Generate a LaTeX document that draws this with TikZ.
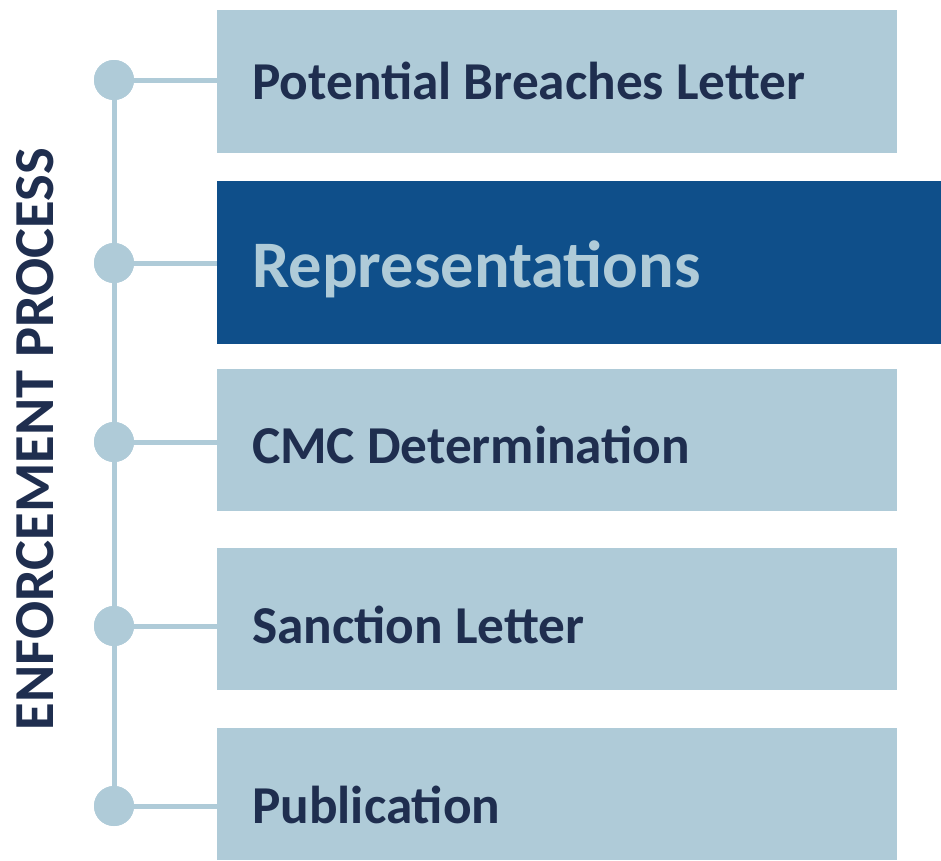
\documentclass[tikz,border=0pt]{standalone}
\usepackage{fontspec}
\setmainfont{Carlito}
\definecolor{paleblue}{HTML}{AFCBD8}
\definecolor{deepblue}{HTML}{0F4F8A}
\definecolor{navy}{HTML}{1F2E4F}
\begin{document}
\begin{tikzpicture}[x=1pt,y=-1pt,
  stage/.style={fill=paleblue, draw=none},
  activestage/.style={fill=deepblue, draw=none},
  label/.style={anchor=base west, inner sep=0pt, text=navy, font=\fontsize{53.3}{60}\selectfont\bfseries},
  activelabel/.style={anchor=base west, inner sep=0pt, text=paleblue, font=\fontsize{66.5}{76}\selectfont\bfseries},
  dot/.style={circle, fill=paleblue, draw=none, minimum size=40pt, inner sep=0pt},
  link/.style={draw=paleblue, line width=5pt}]
\useasboundingbox (0,0) rectangle (941,860);

% stage boxes
\fill[stage] (217,10) rectangle (897,153);
\fill[activestage] (217,181) rectangle (941,344);
\fill[stage] (217,369) rectangle (897,511);
\fill[stage] (217,548) rectangle (897,690);
\fill[stage] (217,728) rectangle (897,860);

% timeline dots
\node[dot] (d1) at (114,80) {};
\node[dot] (d2) at (114,263) {};
\node[dot] (d3) at (114,442) {};
\node[dot] (d4) at (114,626) {};
\node[dot] (d5) at (114,806) {};

\coordinate (b1) at (217,80);
\coordinate (b2) at (217,263);
\coordinate (b3) at (217,442);
\coordinate (b4) at (217,626);
\coordinate (b5) at (217,806);

% spine and connectors, then the dots again on top
\draw[link] (d1.center) -- (d5.center);
\foreach \i in {1,...,5} \draw[link] (d\i.center) -- (b\i);
\foreach \i in {1,...,5} \node[dot] at (d\i) {};

% stage labels
\node[label] (t1) at (252,99) {Potential Breaches Letter};
\node[activelabel] (t2) at (252,287) {Representations};
\node[label] (t3) at (252,463) {CMC Determination};
\node[label] (t4) at (252,643) {Sanction Letter};
\node[label] (t5) at (252,823) {Publication};

% vertical title
\node[rotate=90, inner sep=0pt, text=navy, font=\fontsize{56.5}{60}\selectfont\bfseries] (title) at (35,439) {ENFORCEMENT PROCESS};
\end{tikzpicture}
\end{document}
